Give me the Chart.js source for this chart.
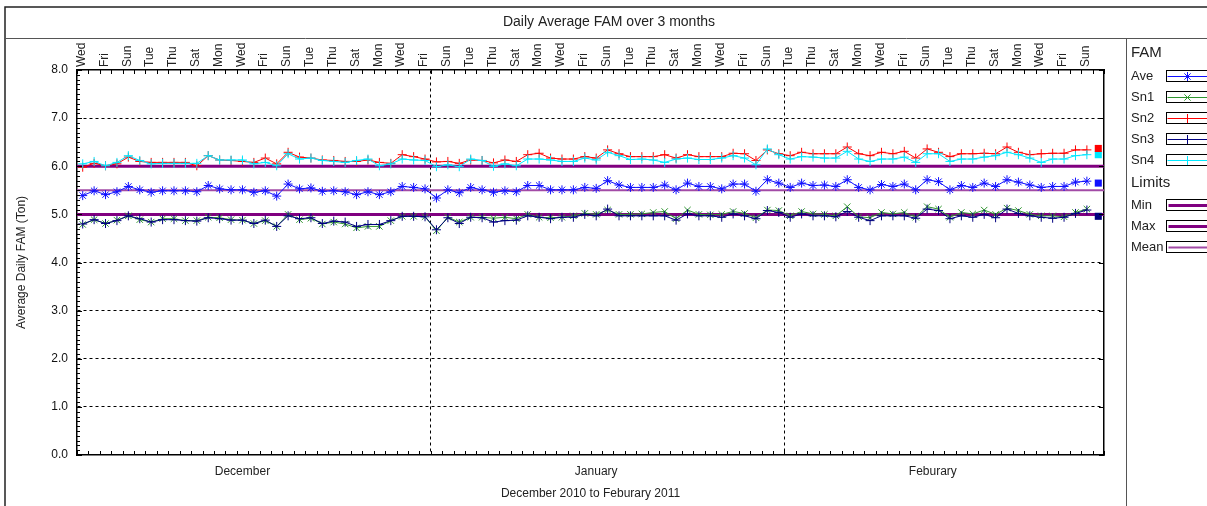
<!DOCTYPE html>
<html>
<head>
<meta charset="utf-8">
<title>Daily Average FAM over 3 months</title>
<script src="https://cdn.jsdelivr.net/npm/chart.js@4/dist/chart.umd.min.js"></script>
<style>
  body { margin: 0; background: #fff; }
  canvas { display: block; }
</style>
</head>
<body>
<canvas id="famChart" width="1207" height="506"></canvas>
<script>
//daily values, 1 Dec 2010 .. 27 Feb 2011
const ave = [5.39, 5.49, 5.41, 5.47, 5.58, 5.51, 5.46, 5.49, 5.49, 5.49, 5.47, 5.60, 5.53, 5.51, 5.51, 5.46, 5.49, 5.38, 5.63, 5.53, 5.55, 5.48, 5.49, 5.47, 5.41, 5.47, 5.41, 5.47, 5.58, 5.56, 5.53, 5.34,
  5.51, 5.45, 5.56, 5.51, 5.46, 5.49, 5.47, 5.60, 5.60, 5.51, 5.51, 5.51, 5.56, 5.54, 5.70, 5.61, 5.56, 5.56, 5.56, 5.61, 5.51, 5.65, 5.58, 5.58, 5.53, 5.63, 5.63, 5.48, 5.72, 5.65, 5.56,
  5.65, 5.60, 5.61, 5.58, 5.72, 5.56, 5.51, 5.62, 5.58, 5.63, 5.51, 5.72, 5.68, 5.51, 5.60, 5.56, 5.65, 5.58, 5.72, 5.67, 5.61, 5.56, 5.58, 5.58, 5.67, 5.69];
const sn1 = [4.79, 4.89, 4.81, 4.88, 4.97, 4.89, 4.84, 4.91, 4.91, 4.87, 4.87, 4.94, 4.93, 4.89, 4.88, 4.81, 4.87, 4.75, 5.00, 4.89, 4.92, 4.80, 4.84, 4.80, 4.72, 4.75, 4.75, 4.87, 4.96, 4.96, 4.95, 4.66,
  4.94, 4.84, 4.94, 4.94, 4.92, 4.94, 4.91, 5.00, 4.94, 4.93, 4.94, 4.97, 5.02, 5.00, 5.09, 5.00, 5.00, 5.01, 5.04, 5.06, 4.91, 5.09, 5.00, 4.99, 5.00, 5.06, 5.02, 4.93, 5.09, 5.08, 4.97,
  5.06, 5.01, 5.00, 4.97, 5.16, 4.95, 4.93, 5.04, 5.01, 5.04, 4.94, 5.16, 5.11, 4.94, 5.04, 5.01, 5.09, 5.00, 5.13, 5.08, 5.00, 4.97, 4.97, 4.95, 5.04, 5.11];
const sn2 = [5.98, 6.06, 6.01, 6.05, 6.19, 6.10, 6.08, 6.08, 6.08, 6.08, 6.01, 6.22, 6.13, 6.12, 6.10, 6.08, 6.17, 6.05, 6.29, 6.19, 6.17, 6.13, 6.12, 6.10, 6.10, 6.13, 6.08, 6.06, 6.24, 6.20, 6.15, 6.09,
  6.10, 6.06, 6.13, 6.12, 6.07, 6.13, 6.10, 6.24, 6.27, 6.17, 6.15, 6.15, 6.20, 6.17, 6.34, 6.26, 6.20, 6.20, 6.20, 6.24, 6.17, 6.24, 6.20, 6.20, 6.20, 6.27, 6.26, 6.12, 6.34, 6.26, 6.22,
  6.29, 6.26, 6.26, 6.26, 6.40, 6.26, 6.22, 6.29, 6.26, 6.31, 6.17, 6.36, 6.29, 6.20, 6.26, 6.26, 6.27, 6.26, 6.40, 6.29, 6.24, 6.26, 6.27, 6.27, 6.34, 6.34];
const sn3 = [4.80, 4.89, 4.81, 4.87, 4.97, 4.91, 4.84, 4.89, 4.89, 4.87, 4.86, 4.93, 4.91, 4.88, 4.88, 4.81, 4.88, 4.75, 4.97, 4.91, 4.93, 4.81, 4.86, 4.84, 4.75, 4.79, 4.79, 4.87, 4.96, 4.96, 4.95, 4.68,
  4.93, 4.81, 4.94, 4.93, 4.84, 4.87, 4.88, 4.97, 4.94, 4.91, 4.94, 4.94, 5.00, 4.97, 5.11, 4.97, 4.97, 4.97, 4.97, 4.97, 4.88, 5.01, 4.97, 4.97, 4.94, 5.01, 4.97, 4.91, 5.08, 5.04, 4.94,
  5.01, 4.97, 4.97, 4.95, 5.06, 4.94, 4.87, 4.97, 4.97, 4.97, 4.92, 5.11, 5.08, 4.91, 4.97, 4.94, 5.00, 4.93, 5.11, 5.02, 4.97, 4.94, 4.92, 4.94, 5.02, 5.09];
const sn4 = [6.05, 6.10, 6.01, 6.08, 6.22, 6.12, 6.05, 6.06, 6.06, 6.06, 6.06, 6.22, 6.13, 6.13, 6.13, 6.05, 6.08, 6.01, 6.26, 6.15, 6.17, 6.12, 6.10, 6.08, 6.12, 6.15, 6.01, 6.05, 6.15, 6.13, 6.12, 5.99,
  6.03, 5.99, 6.15, 6.12, 6.00, 6.05, 6.01, 6.15, 6.15, 6.13, 6.10, 6.10, 6.17, 6.13, 6.29, 6.22, 6.14, 6.15, 6.13, 6.08, 6.15, 6.17, 6.14, 6.14, 6.17, 6.22, 6.17, 6.03, 6.36, 6.24, 6.15,
  6.20, 6.19, 6.17, 6.17, 6.31, 6.15, 6.10, 6.15, 6.15, 6.19, 6.08, 6.26, 6.26, 6.10, 6.15, 6.15, 6.19, 6.22, 6.29, 6.24, 6.17, 6.08, 6.15, 6.15, 6.22, 6.24];

//last day (28 Feb) shown as squares
const lastDayNames = ["Sn2", "Sn4", "Ave", "Sn3"];
const lastDayValues = [6.37, 6.24, 5.65, 4.96];

//limits
const limitNames = ["Min", "Max", "Mean"];
const limitValues = [5.0, 6.0, 5.5];

//calendar
const months = ["December", "January", "Feburary"];
const monthDays = [31, 31, 28];
const dayNames = ["Sun", "Mon", "Tue", "Wed", "Thu", "Fri", "Sat"];
const firstWeekday = 3; // 1 Dec 2010 was a Wednesday

const totalDays = monthDays.reduce((a, b) => a + b, 0);
const monthStarts = [];
let acc = 0;
monthDays.forEach((d) => { monthStarts.push(acc); acc += d; });
const monthEdges = monthStarts.slice(1);
const monthMid = monthStarts.map((s, k) => s + monthDays[k] / 2 - 1);

const FONT = '"Liberation Sans", Arial, sans-serif';
Chart.defaults.font.family = FONT;
Chart.defaults.font.size = 12;
Chart.defaults.color = "#222";

const toPoints = (arr) => arr.map((v, i) => ({ x: i + 0.5, y: v }));

const famStyle = {
  Ave: { data: ave, color: "#1010ff", point: "star" },
  Sn1: { data: sn1, color: "#2f962f", point: "crossRot" },
  Sn2: { data: sn2, color: "#ff0000", point: "cross" },
  Sn3: { data: sn3, color: "#000080", point: "cross" },
  Sn4: { data: sn4, color: "#00e8ff", point: "cross" },
};
const famNames = ["Ave", "Sn1", "Sn2", "Sn3", "Sn4"];
const limitStyle = {
  Min: { color: "#800080", width: 3 },
  Max: { color: "#800080", width: 3 },
  Mean: { color: "#a24aa6", width: 2 },
};

const datasets = [];
//squares on top
lastDayNames.forEach((name, k) => {
  datasets.push({
    label: name + " last",
    data: [{ x: totalDays - 0.5, y: lastDayValues[k] }],
    showLine: false,
    pointStyle: "rect",
    pointRadius: 5,
    pointBackgroundColor: famStyle[name].color,
    pointBorderColor: famStyle[name].color,
    pointBorderWidth: 0,
  });
});
//drawing order: first one ends up on top
["Ave", "Sn3", "Sn1", "Sn4", "Sn2"].forEach((name) => {
  const s = famStyle[name];
  datasets.push({
    label: name,
    data: toPoints(s.data),
    borderColor: s.color,
    backgroundColor: s.color,
    borderWidth: 1,
    pointStyle: s.point,
    pointRadius: 4.5,
    pointBorderWidth: 1,
    pointBorderColor: s.color,
    tension: 0,
  });
});
limitNames.forEach((name, k) => {
  datasets.push({
    label: name,
    data: [{ x: 0, y: limitValues[k] }, { x: totalDays, y: limitValues[k] }],
    borderColor: limitStyle[name].color,
    borderWidth: limitStyle[name].width,
    pointRadius: 0,
  });
});

function drawMark(c, style, x, y, r, color) {
  c.strokeStyle = color;
  c.lineWidth = 1;
  c.beginPath();
  if (style === "cross" || style === "star") {
    c.moveTo(x - r, y); c.lineTo(x + r, y);
    c.moveTo(x, y - r); c.lineTo(x, y + r);
  }
  if (style === "crossRot" || style === "star") {
    const d = r * 0.7;
    c.moveTo(x - d, y - d); c.lineTo(x + d, y + d);
    c.moveTo(x - d, y + d); c.lineTo(x + d, y - d);
  }
  c.stroke();
}

//frame, inner ticks and the legend on the right
const decorations = {
  id: "decorations",
  beforeDraw(chart) {
    const c = chart.ctx;
    c.save();
    c.fillStyle = "#fff";
    c.fillRect(0, 0, chart.width, chart.height);
    c.restore();
  },
  afterDraw(chart) {
    const c = chart.ctx;
    const a = chart.chartArea;
    const xs = chart.scales.xTop;
    const ys = chart.scales.y;
    c.save();

    //ticks pointing into the plot
    c.strokeStyle = "#000";
    c.lineWidth = 1;
    c.beginPath();
    for (let d = 0; d <= totalDays; d++) {
      const px = Math.round(xs.getPixelForValue(d)) + 0.5;
      c.moveTo(px, a.top);
      c.lineTo(px, a.top + 4);
      c.moveTo(px, a.bottom);
      c.lineTo(px, a.bottom - 4);
    }
    for (let v = 0; v <= 80; v++) {
      const py = Math.round(ys.getPixelForValue(v / 10)) + 0.5;
      const len = v % 10 === 0 ? 5 : 3;
      c.moveTo(a.left, py);
      c.lineTo(a.left + len, py);
      if (v % 10 === 0) {
        c.moveTo(a.right, py);
        c.lineTo(a.right - 5, py);
      }
    }
    c.stroke();

    //outer frame
    c.strokeStyle = "#222";
    c.lineWidth = 1.5;
    c.beginPath();
    c.moveTo(5, chart.height);
    c.lineTo(5, 7);
    c.lineTo(chart.width, 7);
    c.stroke();
    c.lineWidth = 1;
    c.strokeStyle = "#555";
    c.beginPath();
    c.moveTo(5, 38.5);
    c.lineTo(chart.width, 38.5);
    c.moveTo(1126.5, 38.5);
    c.lineTo(1126.5, chart.height);
    c.stroke();

    //legend
    const lx = 1131;
    const bx = 1166.5;
    c.textBaseline = "middle";
    c.textAlign = "left";
    c.fillStyle = "#222";
    c.font = "15px " + FONT;
    c.fillText("FAM", lx, 53);
    famNames.forEach((name, k) => {
      const yy = 76 + k * 21;
      const s = famStyle[name];
      c.fillStyle = "#222";
      c.font = "13px " + FONT;
      c.fillText(name, lx, yy);
      c.strokeStyle = "#000";
      c.lineWidth = 1;
      c.strokeRect(bx, yy - 5.5, 70, 11);
      c.strokeStyle = s.color;
      c.beginPath();
      c.moveTo(bx + 1, yy + 0.5);
      c.lineTo(bx + 70, yy + 0.5);
      c.stroke();
      drawMark(c, s.point, bx + 21, yy + 0.5, 4.5, s.color);
    });
    c.fillStyle = "#222";
    c.font = "15px " + FONT;
    c.fillText("Limits", lx, 183);
    limitNames.forEach((name, k) => {
      const yy = 205 + k * 21;
      const s = limitStyle[name];
      c.fillStyle = "#222";
      c.font = "13px " + FONT;
      c.fillText(name, lx, yy);
      c.strokeStyle = "#000";
      c.lineWidth = 1;
      c.strokeRect(bx, yy - 5.5, 70, 11);
      c.strokeStyle = s.color;
      c.lineWidth = s.width;
      c.beginPath();
      c.moveTo(bx + 2, yy + 0.5);
      c.lineTo(bx + 70, yy + 0.5);
      c.stroke();
    });
    c.restore();
  },
};

const ctx = document.getElementById("famChart");
const famChart = new Chart(ctx, {
  type: "line",
  data: { datasets: datasets },
  options: {
    responsive: false,
    animation: false,
    events: [],
    layout: { padding: { left: 11, top: 8, right: 0, bottom: 0 } },
    plugins: {
      legend: { display: false },
      tooltip: { enabled: false },
      title: {
        display: true,
        text: "Daily Average FAM over 3 months",
        color: "#222",
        font: { size: 14, weight: "normal" },
        padding: { top: 6, bottom: 8 },
      },
    },
    scales: {
      x: {
        type: "linear",
        position: "bottom",
        min: 0,
        max: totalDays,
        afterBuildTicks: (s) => {
          s.ticks = monthMid.map((v) => ({ value: v }));
        },
        ticks: {
          autoSkip: false,
          maxRotation: 0,
          padding: 9,
          color: "#222",
          callback: (v, i) => months[i],
        },
        grid: { display: false, drawTicks: false },
        border: { color: "#000", width: 1.5 },
        title: {
          display: true,
          text: "December 2010 to Feburary 2011",
          color: "#222",
          font: { size: 12 },
          padding: { top: 0, bottom: 5 },
        },
        afterFit: (s) => {
          s.height = 51;
        },
      },
      xTop: {
        type: "linear",
        position: "top",
        min: 0,
        max: totalDays,
        ticks: {
          stepSize: 1,
          autoSkip: false,
          minRotation: 90,
          maxRotation: 90,
          padding: 3,
          labelOffset: 19,
          color: "#222",
          callback: (v) => (v < totalDays && v % 2 === 0 ? dayNames[(firstWeekday + v) % 7] : ""),
        },
        grid: {
          drawTicks: false,
          color: (c) => (c.tick && monthEdges.includes(c.tick.value) ? "#000" : "transparent"),
        },
        border: { color: "#000", width: 1.5, dash: [3, 3] },
        afterFit: (s) => {
          s.height = 31.2;
        },
      },
      y: {
        min: 0,
        max: 8,
        ticks: {
          stepSize: 1,
          padding: 9,
          color: "#111",
          callback: (v) => v.toFixed(1),
        },
        grid: {
          drawTicks: false,
          color: (c) => (c.tick && c.tick.value > 0 && c.tick.value < 8 ? "#000" : "transparent"),
        },
        border: { color: "#000", width: 1.5, dash: [3, 3] },
        title: {
          display: true,
          text: "Average Daily FAM (Ton)",
          color: "#222",
          font: { size: 12 },
          padding: { top: 3, bottom: 0 },
        },
        afterFit: (s) => {
          s.width = 66;
        },
      },
      y2: {
        position: "right",
        min: 0,
        max: 8,
        ticks: { display: false },
        grid: { display: false, drawTicks: false },
        border: { color: "#000", width: 1.5 },
        afterFit: (s) => {
          s.width = 103;
        },
      },
    },
  },
  plugins: [decorations],
});
</script>
</body>
</html>
